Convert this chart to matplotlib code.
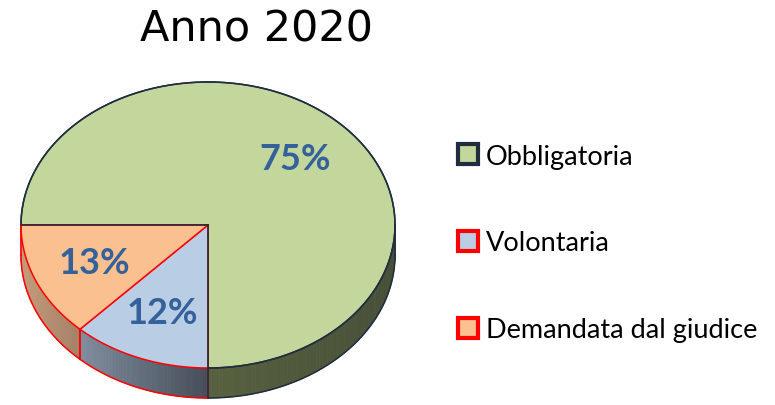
import numpy as np
import matplotlib
matplotlib.use("Agg")
import matplotlib.pyplot as plt
from matplotlib.patches import Polygon, Patch
from matplotlib.colors import to_rgb

# ---------------------------------------------------------------------------
# Data
# ---------------------------------------------------------------------------
title = "Anno 2020"
categories = ["Obbligatoria", "Volontaria", "Demandata dal giudice"]
shares = [75, 12, 13]

top_colors = ["#C3D69B", "#B9CDE5", "#FAC090"]
side_left = ["#58613F", "#808D9E", "#C49C7B"]
side_right = ["#474F38", "#444C57", "#A47F66"]
edge_colors = ["#1F2D3F", "#FF0000", "#FF0000"]
label_color = "#35619A"

# ---------------------------------------------------------------------------
# Geometry of the tilted pie (pixel-like axes, y up)
# ---------------------------------------------------------------------------
W, H = 775, 406
cx, cy = 208, H - 226
rx, ry = 187, 143
depth = 30
start = 180.0  # first slice starts at 9 o'clock, goes clockwise

fig = plt.figure(figsize=(W / 100, H / 100), dpi=100)
ax = fig.add_axes([0, 0, 1, 1])
ax.set_xlim(0, W)
ax.set_ylim(0, H)
ax.axis("off")


def ell(t):
    return cx + rx * np.cos(t), cy + ry * np.sin(t)


fracs = np.array(shares) / sum(shares)
bounds = start - np.concatenate([[0], np.cumsum(fracs) * 360])

for i in range(len(shares)):
    a0, a1 = bounds[i], bounds[i + 1]  # a0 > a1, clockwise
    # --- visible side (front half: angles between -180 and 0) ---
    lo, hi = max(a1, -180), min(a0, 0)
    if lo < hi:
        ts = np.radians(np.linspace(hi, lo, 80))
        xs, ys = ell(ts)
        xmin, xmax = xs.min(), xs.max()
        cl, cr = np.array(to_rgb(side_left[i])), np.array(to_rgb(side_right[i]))
        for k in range(len(ts) - 1):
            xm = 0.5 * (xs[k] + xs[k + 1])
            w = (xm - xmin) / max(xmax - xmin, 1)
            col = cl * (1 - w) + cr * w
            quad = [(xs[k], ys[k]), (xs[k + 1], ys[k + 1]),
                    (xs[k + 1], ys[k + 1] - depth), (xs[k], ys[k] - depth)]
            ax.add_patch(Polygon(quad, closed=True, facecolor=col,
                                 edgecolor=col, linewidth=0.6, zorder=1))
        ax.plot(xs, ys - depth, color=edge_colors[i], lw=1.1, zorder=3)
        for t in (hi, lo):
            x0, y0 = ell(np.radians(t))
            ax.plot([x0, x0], [y0, y0 - depth], color=edge_colors[i],
                    lw=1.1, zorder=3)

    # --- top face ---
    ts = np.radians(np.linspace(a0, a1, 200))
    xs, ys = ell(ts)
    pts = [(cx, cy)] + list(zip(xs, ys))
    ax.add_patch(Polygon(pts, closed=True, facecolor=top_colors[i],
                         edgecolor=edge_colors[i], linewidth=1.1,
                         joinstyle="round", zorder=2))

# navy border on the green slice drawn again so it sits over the red ones
ts = np.radians(np.linspace(bounds[0], bounds[1], 300))
xs, ys = ell(ts)
ax.plot(np.r_[cx, xs, cx], np.r_[cy, ys, cy], color=edge_colors[0],
        lw=1.1, zorder=4)
x6, y6 = ell(np.radians(-90))
ax.plot([x6, x6], [y6, y6 - depth], color=edge_colors[0], lw=1.1, zorder=4)

# percentage labels
for i in range(len(shares)):
    mid = np.radians(0.5 * (bounds[i] + bounds[i + 1]))
    lx = cx + 0.66 * rx * np.cos(mid)
    ly = cy + 0.66 * ry * np.sin(mid)
    ax.text(lx, ly, f"{shares[i]}%", ha="center", va="center",
            fontsize=26, fontweight="bold", color=label_color,
            family="Lato", zorder=5)

# title
ax.text(256, H - 29, title, ha="center", va="center", fontsize=31,
        family="DejaVu Sans", color="black")

# legend
handles = [Patch(facecolor=top_colors[i], edgecolor=edge_colors[i],
                 linewidth=3, label=categories[i]) for i in range(3)]
leg = fig.legend(handles=handles, loc="upper left",
                 bbox_to_anchor=(444 / W, 1 - 131 / H),
                 frameon=False, prop={"family": "Lato", "size": 19.5},
                 handlelength=0.75, handleheight=0.75, handletextpad=0.3,
                 labelspacing=2.28, borderpad=0)

fig.savefig("out.png", dpi=100)
